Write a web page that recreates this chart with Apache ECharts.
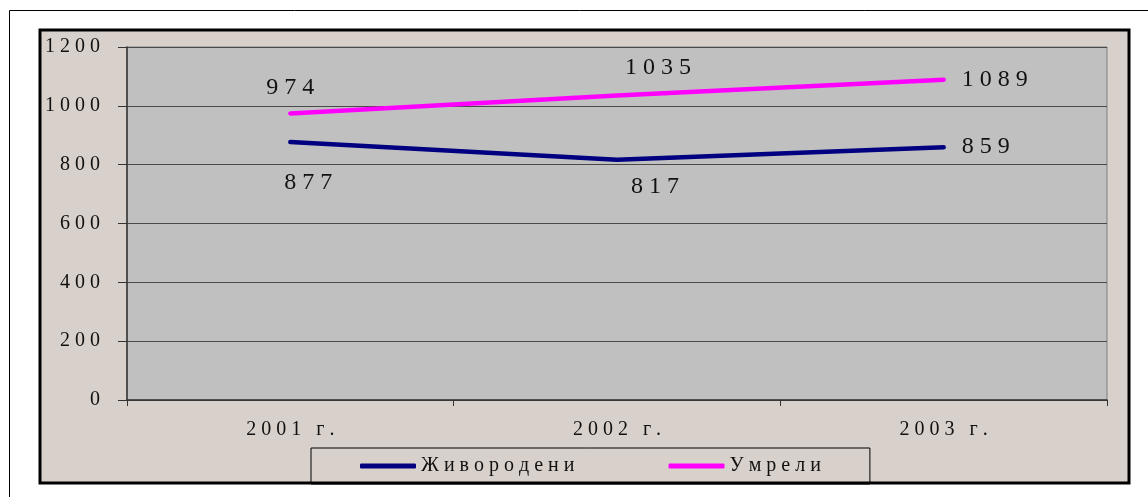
<!DOCTYPE html>
<html>
<head>
<meta charset="utf-8">
<script src="https://cdn.jsdelivr.net/npm/echarts@6/dist/echarts.min.js"></script>
<style>
  html, body { margin: 0; padding: 0; background: #fff; }
  #chart { width: 1148px; height: 497px; }
</style>
</head>
<body>
<div id="chart"></div>
<script>
const years = ['2001 г.', '2002 г.', '2003 г.']
const seriesNames = ['Живородени', 'Умрели']
const liveBirths = [877, 817, 859]
const deaths = [974, 1035, 1089]
const yTicks = [0, 200, 400, 600, 800, 1000, 1200]

// label offsets [dx, dy] from the point, the way they sit in the picture
const birthOffsets = [[18, 41], [38, 27], [42, -1]]
const deathOffsets = [[0, -26], [41, -28], [51, 0]]

const FONT = 'Liberation Serif'
// the source text is letter-spaced, so put a space between chars
const spaced = s => s.split('').join(' ')

const withLabels = (values, offsets) => values.map((v, i) => ({
  value: v,
  label: { offset: offsets[i] }
}))

const lineSeries = (name, values, offsets, color) => ({
  name: name,
  type: 'line',
  data: withLabels(values, offsets),
  symbol: 'circle',
  symbolSize: 0.1,
  showSymbol: true,
  lineStyle: { color: color, width: 4.5, cap: 'round' },
  itemStyle: { color: color },
  label: {
    show: true,
    position: 'inside',
    formatter: p => spaced(String(p.value)),
    fontFamily: FONT,
    fontSize: 24,
    color: '#111'
  },
  emphasis: { disabled: true },
  z: 3
})

const chart = echarts.init(document.getElementById('chart'))
chart.setOption({
  animation: false,
  backgroundColor: '#fff',
  graphic: [
    {
      type: 'rect', z: -2,
      shape: { x: 9.5, y: 10.5, width: 1400, height: 800 },
      style: { fill: '#fff', stroke: '#000', lineWidth: 1 }
    },
    {
      type: 'rect', z: -1,
      shape: { x: 40, y: 30, width: 1089, height: 453 },
      style: { fill: '#D8D0CA', stroke: '#000', lineWidth: 3 }
    }
  ],
  grid: {
    left: 127, top: 47, right: 41, bottom: 97,
    show: true,
    backgroundColor: '#C0C0C0',
    borderColor: '#808080',
    borderWidth: 1
  },
  legend: {
    data: seriesNames.map(n => ({ name: n, icon: 'roundRect' })),
    left: 311,
    top: 448,
    padding: [8, 49, 8, 49],
    itemGap: 94,
    itemWidth: 56,
    itemHeight: 5,
    borderColor: '#000',
    borderWidth: 1,
    formatter: name => spaced(name),
    textStyle: { fontFamily: FONT, fontSize: 20, color: '#111', lineHeight: 20 }
  },
  xAxis: {
    type: 'category',
    data: years,
    boundaryGap: true,
    axisLine: { lineStyle: { color: '#333', width: 1.5 } },
    axisTick: { show: true, length: 6, inside: false, lineStyle: { color: '#333' } },
    axisLabel: {
      margin: 20,
      formatter: v => spaced(v),
      fontFamily: FONT,
      fontSize: 20,
      color: '#111'
    },
    splitLine: { show: false }
  },
  yAxis: {
    type: 'value',
    min: yTicks[0],
    max: yTicks[yTicks.length - 1],
    interval: 200,
    axisLine: { show: true, lineStyle: { color: '#333', width: 1.5 } },
    axisTick: { show: true, length: 9, inside: false, lineStyle: { color: '#333' } },
    axisLabel: {
      margin: 27,
      formatter: v => spaced(String(v)),
      fontFamily: FONT,
      fontSize: 20,
      color: '#111'
    },
    splitLine: { show: true, lineStyle: { color: '#4a4a4a', width: 1 } }
  },
  series: [
    lineSeries(seriesNames[0], liveBirths, birthOffsets, '#000080'),
    lineSeries(seriesNames[1], deaths, deathOffsets, '#FF00FF')
  ]
})
</script>
</body>
</html>
